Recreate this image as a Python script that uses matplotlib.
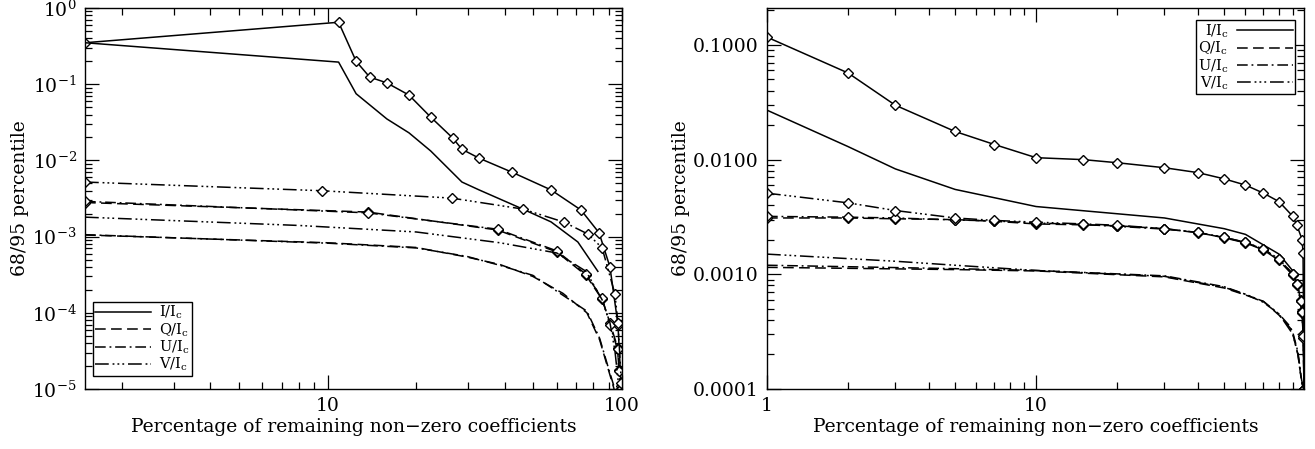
import numpy as np
import matplotlib
matplotlib.use('Agg')
import matplotlib.pyplot as plt
from matplotlib.ticker import LogLocator, NullFormatter, FormatStrFormatter, FixedLocator

# ---------------- data: left panel ----------------
L_I95_x = [1.5, 10.9, 12.5, 13.9, 15.9, 18.9, 22.4, 26.6, 28.6, 32.7, 42.3, 57.4, 72.6, 83.6, 91.0, 96.9, 99.3]
L_I95_y = [0.35, 0.65, 0.20, 0.124, 0.104, 0.072, 0.037, 0.0197, 0.014, 0.0107, 0.0070, 0.0041, 0.00223, 0.00112, 0.0004, 7e-5, 1.1e-5]
L_I68_x = [1.5, 10.9, 12.5, 15.9, 18.9, 22.4, 28.6, 32.7, 46.0, 57.4, 70.8, 82.8]
L_I68_y = [0.35, 0.195, 0.075, 0.035, 0.023, 0.0133, 0.0052, 0.0041, 0.0023, 0.00156, 0.00085, 0.00035]

L_Q95_x = [1.5, 13.7, 37.8, 60.0, 75.5, 85.6, 91.0, 96.6, 97.5, 99.0]
L_Q95_y = [0.0028, 0.0021, 0.00122, 0.00063, 0.00031, 0.00015, 7.4e-5, 3.5e-5, 1.8e-5, 1.0e-5]
L_U95_x = [1.5, 13.7, 37.8, 60.0, 75.5, 85.6, 91.0, 96.6, 97.8, 99.2]
L_U95_y = [0.0029, 0.00205, 0.00125, 0.00065, 0.00032, 0.000155, 7.0e-5, 3.3e-5, 1.7e-5, 1.0e-5]
L_V95_x = [1.5, 9.55, 26.4, 46.0, 63.5, 76.6, 85.6, 94.6, 96.9, 99.5]
L_V95_y = [0.0052, 0.0040, 0.0032, 0.0023, 0.00155, 0.00108, 0.00071, 0.000177, 7.4e-5, 1.2e-5]

L_Q68_x = [1.5, 10.0, 20.0, 29.7, 38.5, 49.8, 63.0, 76.0, 84.0, 89.5, 94.0]
L_Q68_y = [0.00105, 0.00083, 0.00072, 0.00054, 0.00043, 0.0003, 0.00018, 1.0e-4, 4.4e-5, 1.9e-5, 1.0e-5]
L_U68_x = [1.5, 10.0, 20.0, 29.7, 38.5, 49.8, 63.0, 76.0, 84.0, 89.5, 94.5]
L_U68_y = [0.00106, 0.00082, 0.00071, 0.00055, 0.00042, 0.00031, 0.00017, 1.05e-4, 4.6e-5, 2.0e-5, 1.0e-5]
L_V68_x = [1.5, 8.0, 20.0, 38.5, 60.0, 75.5, 85.6, 91.0, 94.6, 97.0]
L_V68_y = [0.0018, 0.0014, 0.00115, 0.00083, 0.00061, 0.00035, 0.000148, 7.4e-5, 3.2e-5, 1.3e-5]

# ---------------- data: right panel ----------------
R_I95_x = [1, 2, 3, 5, 7, 10, 15, 20, 30, 40, 50, 60, 70, 80, 90, 93, 97.5, 98.2, 99]
R_I95_y = [0.117, 0.057, 0.0298, 0.0176, 0.01355, 0.0104, 0.0100, 0.0094, 0.0085, 0.0077, 0.0068, 0.0060, 0.0051, 0.0043, 0.0032, 0.0027, 0.0020, 0.00153, 0.0001]
R_I68_x = [1, 2, 3, 5, 10, 30, 50, 60, 80, 90, 95, 98, 99]
R_I68_y = [0.027, 0.013, 0.0083, 0.0055, 0.0039, 0.0031, 0.0025, 0.00223, 0.0015, 0.00107, 0.0007, 0.0004, 0.0001]

R_Q95_x = [1, 2, 3, 5, 7, 10, 15, 20, 30, 40, 50, 60, 70, 80, 90, 93, 96.5, 97.2, 98.5, 99]
R_Q95_y = [0.0031, 0.0031, 0.00305, 0.0030, 0.0029, 0.00275, 0.0027, 0.00265, 0.0025, 0.0023, 0.0021, 0.0019, 0.00165, 0.00135, 0.00101, 0.00083, 0.0006, 0.00048, 0.0003, 0.0001]
R_U95_x = [1, 2, 3, 5, 7, 10, 15, 20, 30, 40, 50, 60, 70, 80, 90, 93, 96.5, 97.2, 98.5, 99]
R_U95_y = [0.0032, 0.00315, 0.0031, 0.00298, 0.00292, 0.0028, 0.00272, 0.00262, 0.00248, 0.00232, 0.00208, 0.00188, 0.00163, 0.00132, 0.00098, 0.0008, 0.00058, 0.00046, 0.00028, 0.0001]
R_V95_x = [1, 2, 3, 5, 7, 10, 15, 20, 30, 40, 50, 60, 70, 80, 90, 93, 96.5, 97.2, 98.5, 99]
R_V95_y = [0.0051, 0.0042, 0.0036, 0.0031, 0.00295, 0.00285, 0.00275, 0.00268, 0.0025, 0.00232, 0.0021, 0.0019, 0.00166, 0.00136, 0.001, 0.00082, 0.00059, 0.00047, 0.00029, 0.0001]

R_Q68_x = [1, 5, 10, 30, 50, 60, 70, 80, 88, 90, 94, 97, 98.8]
R_Q68_y = [0.00115, 0.0011, 0.00107, 0.00095, 0.00076, 0.00066, 0.00058, 0.00044, 0.00034, 0.0003, 0.0002, 0.000115, 0.0001]
R_U68_x = [1, 5, 10, 30, 50, 60, 70, 80, 88, 90, 94, 97, 98.8]
R_U68_y = [0.0012, 0.00112, 0.00108, 0.00097, 0.00078, 0.00067, 0.00057, 0.00045, 0.00035, 0.00031, 0.00021, 0.00012, 0.0001]
R_V68_x = [1, 3, 5, 10, 30, 50, 60, 70, 80, 90, 94, 97, 98.8]
R_V68_y = [0.0015, 0.0013, 0.0012, 0.00108, 0.00096, 0.00077, 0.00067, 0.00058, 0.00045, 0.0003, 0.0002, 0.000115, 0.0001]

labels = [r'I/I$_\mathregular{c}$', r'Q/I$_\mathregular{c}$', r'U/I$_\mathregular{c}$', r'V/I$_\mathregular{c}$']

# ---------------- style ----------------
plt.rcParams['font.family'] = 'DejaVu Serif'
plt.rcParams['mathtext.fontset'] = 'dejavuserif'
plt.rcParams['font.size'] = 13.5

ls_I = '-'
ls_Q = (0, (7, 3.5))
ls_U = (0, (7, 2.5, 1.2, 2.5))
ls_V = (0, (9, 2.5, 1.2, 2, 1.2, 2, 1.2, 2.5))
lw = 1.1
mk = dict(marker='D', markersize=5.5, markerfacecolor='white', markeredgecolor='black', markeredgewidth=1.0)

fig = plt.figure(figsize=(13.15, 4.49), dpi=100)
ax1 = fig.add_axes([85/1315, 1-389/449, (622-85)/1315, (389-8)/449])
ax2 = fig.add_axes([767/1315, 1-389/449, (1304-767)/1315, (389-8)/449])


def style_axis(ax):
    ax.set_xscale('log')
    ax.set_yscale('log')
    ax.tick_params(which='both', direction='in', top=True, right=True, width=0.9)
    ax.tick_params(which='major', length=10, pad=6)
    ax.tick_params(which='minor', length=5)
    ax.xaxis.set_minor_locator(LogLocator(base=10, subs=np.arange(2, 10)))
    ax.yaxis.set_minor_locator(LogLocator(base=10, subs=np.arange(2, 10)))
    ax.xaxis.set_minor_formatter(NullFormatter())
    ax.yaxis.set_minor_formatter(NullFormatter())
    for s in ax.spines.values():
        s.set_linewidth(1.0)
    ax.set_xlabel('Percentage of remaining non\u2212zero coefficients', labelpad=2)
    ax.set_ylabel('68/95 percentile', labelpad=2)


leg_kw = dict(fancybox=False, edgecolor='black', framealpha=1, fontsize=10.5,
              handlelength=3.8, labelspacing=0.0, borderpad=0.15,
              handletextpad=0.6, borderaxespad=0.0)

# left panel
ax1.plot(L_I95_x, L_I95_y, color='black', lw=lw, ls=ls_I, **mk)
ax1.plot(L_I68_x, L_I68_y, color='black', lw=lw, ls=ls_I)
ax1.plot(L_Q95_x, L_Q95_y, color='black', lw=lw, ls=ls_Q, **mk)
ax1.plot(L_U95_x, L_U95_y, color='black', lw=lw, ls=ls_U, **mk)
ax1.plot(L_V95_x, L_V95_y, color='black', lw=lw, ls=ls_V, **mk)
ax1.plot(L_Q68_x, L_Q68_y, color='black', lw=lw, ls=ls_Q)
ax1.plot(L_U68_x, L_U68_y, color='black', lw=lw, ls=ls_U)
ax1.plot(L_V68_x, L_V68_y, color='black', lw=lw, ls=ls_V)
style_axis(ax1)
ax1.set_xlim(1.5, 100)
ax1.set_ylim(1e-5, 1)
ax1.xaxis.set_major_locator(FixedLocator([10, 100]))
ax1.xaxis.set_major_formatter(FormatStrFormatter('%d'))
ax1.yaxis.set_major_locator(LogLocator(base=10, numticks=10))

h = [ax1.plot([], [], color='black', lw=lw, ls=s)[0] for s in (ls_I, ls_Q, ls_U, ls_V)]
ax1.legend(h, labels, loc='lower left', bbox_to_anchor=(0.015, 0.035), **leg_kw)

# right panel
ax2.plot(R_I95_x, R_I95_y, color='black', lw=lw, ls=ls_I, **mk)
ax2.plot(R_I68_x, R_I68_y, color='black', lw=lw, ls=ls_I)
ax2.plot(R_Q95_x, R_Q95_y, color='black', lw=lw, ls=ls_Q, **mk)
ax2.plot(R_U95_x, R_U95_y, color='black', lw=lw, ls=ls_U, **mk)
ax2.plot(R_V95_x, R_V95_y, color='black', lw=lw, ls=ls_V, **mk)
ax2.plot(R_Q68_x, R_Q68_y, color='black', lw=lw, ls=ls_Q)
ax2.plot(R_U68_x, R_U68_y, color='black', lw=lw, ls=ls_U)
ax2.plot(R_V68_x, R_V68_y, color='black', lw=lw, ls=ls_V)
style_axis(ax2)
ax2.set_xlim(1, 99)
ax2.set_ylim(1e-4, 0.21)
ax2.xaxis.set_major_locator(FixedLocator([1, 10]))
ax2.xaxis.set_major_formatter(FormatStrFormatter('%d'))
ax2.yaxis.set_major_locator(FixedLocator([1e-4, 1e-3, 1e-2, 1e-1]))
ax2.yaxis.set_major_formatter(FormatStrFormatter('%.4f'))

h2 = [ax2.plot([], [], color='black', lw=lw, ls=s)[0] for s in (ls_I, ls_Q, ls_U, ls_V)]
ax2.legend(h2, labels, loc='upper right', markerfirst=False, bbox_to_anchor=(0.983, 0.968), **leg_kw)

fig.savefig('out.png', dpi=100)
